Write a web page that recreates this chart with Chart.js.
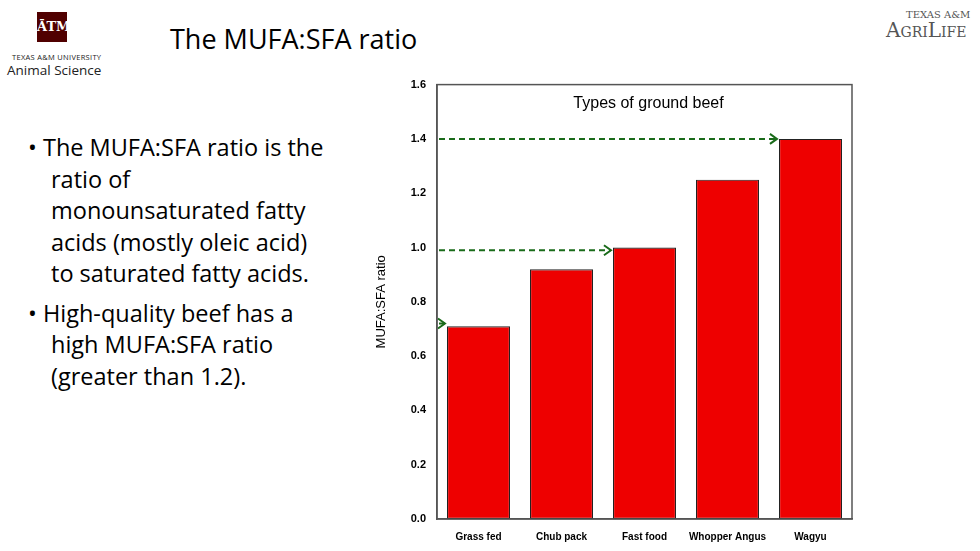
<!DOCTYPE html>
<html><head><meta charset="utf-8">
<script src="https://cdn.jsdelivr.net/npm/chart.js@4"></script>
<style>
body{margin:0;width:980px;height:551px;background:#fff;overflow:hidden;position:relative;font-family:"Open Sans",sans-serif}
#logo{position:absolute;left:37px;top:12px;width:30px;height:30px;background:#500000;color:#fff;font:bold 13px "DejaVu Serif";text-align:center;line-height:30px}
#tx{position:absolute;left:12px;top:52px;font-size:7.5px;letter-spacing:0.3px;color:#222}
#as{position:absolute;left:7px;top:61px;font-size:13.5px;color:#222}
#title{position:absolute;left:170px;top:20px;font-size:27px;color:#000}
#agri{position:absolute;left:886px;top:10px;color:#555;font-family:"DejaVu Serif";line-height:1}
#bul{position:absolute;left:28px;top:132px;width:305px;font-size:23.5px;line-height:31.5px;color:#000}
#bul div{padding-left:23px;text-indent:-23px;margin-bottom:8px}
#c{position:absolute;left:370px;top:75px}
</style></head><body>
<div id="logo">ĀTM</div>
<div id="tx">TEXAS A&amp;M UNIVERSITY</div>
<div id="as">Animal Science</div>
<div id="title">The MUFA:SFA ratio</div>
<div id="agri"><div style="font-size:10px;padding-left:20px">TEXAS A&amp;M</div><div style="font-size:20px">A<span style="font-size:14px">GRI</span>L<span style="font-size:14px">IFE</span></div></div>
<div id="bul">
<div>• The MUFA:SFA ratio is the ratio of monounsaturated fatty acids (mostly oleic acid) to saturated fatty acids.</div>
<div>• High-quality beef has a high MUFA:SFA ratio (greater than 1.2).</div>
</div>
<canvas id="c" width="500" height="476"></canvas>
<script>
const categories=["Grass fed","Chub pack","Fast food","Whopper Angus","Wagyu"];
const ratios=[0.71,0.92,1.0,1.25,1.4];
const arrowLevels=[0.72,0.99,1.4];
const arrowTargets=[0,2,4];
const arrowPlugin={id:'arrows',afterDatasetsDraw(ch){
 const c=ch.ctx,x=ch.scales.x,y=ch.scales.y,meta=ch.getDatasetMeta(0);
 c.save();
 c.font='16px "Liberation Sans"';c.fillStyle='#000';c.textAlign='center';
 c.fillText('Types of ground beef',(x.left+x.right)/2+4,y.getPixelForValue(1.515));
 c.strokeStyle='#1a6b1a';c.lineWidth=2;
 arrowLevels.forEach((v,i)=>{
  const b=meta.data[arrowTargets[i]];const ex=b.x-b.width/2-2,py=y.getPixelForValue(v);
  c.setLineDash([6,4]);c.beginPath();c.moveTo(x.left+2,py);c.lineTo(ex,py);c.stroke();
  c.setLineDash([]);c.beginPath();c.moveTo(ex-7,py-5);c.lineTo(ex,py);c.lineTo(ex-7,py+5);c.stroke();
 });
 c.strokeStyle='#555';c.lineWidth=1.5;c.strokeRect(x.left,y.top,x.right-x.left,y.bottom-y.top);
 c.restore();}};
new Chart(document.getElementById('c'),{type:'bar',
 data:{labels:categories,datasets:[{data:ratios,backgroundColor:'#ee0000',borderColor:'#222',borderWidth:1.2,borderSkipped:false,barPercentage:0.76,categoryPercentage:1}]},
 options:{responsive:false,animation:false,layout:{padding:{top:8,right:18,bottom:4,left:0}},
  plugins:{legend:{display:false},tooltip:{enabled:false}},
  scales:{
   x:{grid:{display:false},border:{color:'#555',width:1.5},ticks:{color:'#000',maxRotation:0,minRotation:0,autoSkip:false,font:{family:'Liberation Sans',size:10,weight:'bold'},padding:4}},
   y:{min:0,max:1.6,afterFit(s){s.width=67},grid:{display:false,drawTicks:true},border:{color:'#555',width:1.5},
    ticks:{stepSize:0.2,color:'#000',font:{family:'Liberation Sans',size:11,weight:'bold'},callback:v=>v.toFixed(1)},
    title:{display:true,text:'MUFA:SFA ratio',color:'#000',font:{family:'Liberation Sans',size:13},padding:{bottom:10}}}}},
 plugins:[arrowPlugin]});
</script></body></html>
